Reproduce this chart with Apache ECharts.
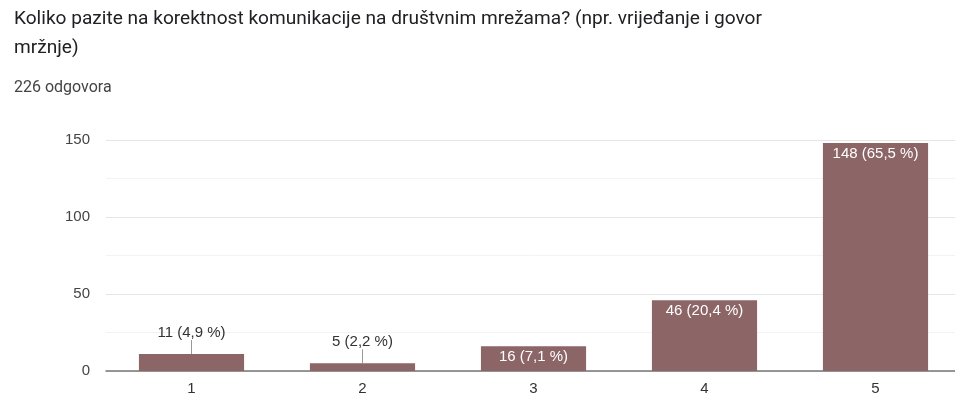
<!DOCTYPE html>
<html>
<head>
<meta charset="utf-8">
<script src="https://cdn.jsdelivr.net/npm/echarts@6/dist/echarts.min.js"></script>
<style>
  html, body { margin: 0; padding: 0; background: #fff; overflow: hidden; width: 955px; height: 396px; }
  #chart { width: 961px; height: 396px; }
</style>
</head>
<body>
<div id="chart"></div>
<script>
// Survey answers on a 1–5 scale
const categories = ['1', '2', '3', '4', '5'];
const counts = [11, 5, 16, 46, 148];
const percents = ['4,9', '2,2', '7,1', '20,4', '65,5'];
const yTicks = [0, 50, 100, 150];

const titleText = 'Koliko pazite na korektnost komunikacije na društvnim mrežama? (npr. vrijeđanje i govor\nmržnje)';
const subtitleText = '226 odgovora';

const barColor = '#8c6567';
// bars too short for an inside label get an outside label with a guide line
const outsideLimit = 12;

const data = counts.map((v, i) => {
  const text = v + ' (' + percents[i] + ' %)';
  if (v < outsideLimit) {
    return {
      value: v,
      label: {
        show: true, position: 'top', distance: 9,
        color: '#333', fontSize: 15, formatter: text
      },
      labelLine: { show: true, lineStyle: { color: '#999', width: 1 } }
    };
  }
  return {
    value: v,
    label: {
      show: true, position: 'insideTop', distance: 3,
      color: '#fff', fontSize: 15, formatter: text
    }
  };
});

const chart = echarts.init(document.getElementById('chart'));
chart.setOption({
  animation: false,
  textStyle: { fontFamily: 'Arial, "Liberation Sans", sans-serif' },
  title: [
    {
      text: titleText, left: 9, top: 0,
      textStyle: { fontFamily: 'Roboto, Arial, sans-serif', fontSize: 19.1, fontWeight: 'normal', color: '#202124', lineHeight: 29 }
    },
    {
      text: subtitleText, left: 9, top: 75,
      textStyle: { fontFamily: 'Roboto, Arial, sans-serif', fontSize: 16, fontWeight: 'normal', color: '#444' }
    }
  ],
  grid: { left: 106, right: 0, top: 140, bottom: 24 },
  xAxis: {
    type: 'category', data: categories,
    axisLine: { lineStyle: { color: '#777', width: 1.5 } },
    axisTick: { show: false },
    axisLabel: { color: '#333', fontSize: 15, margin: 10 }
  },
  yAxis: {
    type: 'value', min: 0, max: 150, interval: 50,
    axisLine: { show: false }, axisTick: { show: false },
    axisLabel: {
      color: '#444', fontSize: 15, margin: 16,
      formatter: v => (yTicks.includes(v) ? String(v) : '')
    },
    splitLine: { lineStyle: { color: '#e6e6e6' } },
    minorTick: { show: false, splitNumber: 2 },
    minorSplitLine: { show: true, lineStyle: { color: '#f3f3f3' } }
  },
  series: [{
    type: 'bar', data: data, barWidth: '61.5%',
    itemStyle: { color: barColor },
    labelLayout: params => {
      const v = counts[params.dataIndex];
      return v < outsideLimit ? { dy: -5 } : {};
    }
  }]
});
</script>
</body>
</html>
